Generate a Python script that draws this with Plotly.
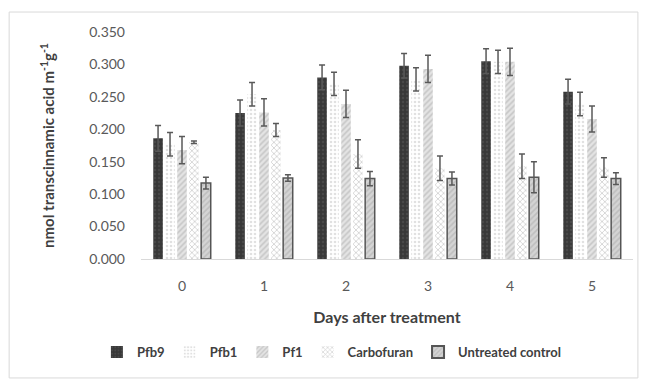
import plotly.graph_objects as go

days = ["0", "1", "2", "3", "4", "5"]
y_ticks = [0.0, 0.05, 0.10, 0.15, 0.20, 0.25, 0.30, 0.35]

pfb9 = [0.186, 0.225, 0.280, 0.298, 0.305, 0.258]
pfb9_err = [0.020, 0.020, 0.019, 0.019, 0.019, 0.019]
pfb1 = [0.177, 0.254, 0.270, 0.277, 0.304, 0.239]
pfb1_err = [0.018, 0.018, 0.018, 0.018, 0.018, 0.018]
pf1 = [0.168, 0.226, 0.239, 0.293, 0.304, 0.216]
pf1_err = [0.021, 0.021, 0.021, 0.021, 0.021, 0.020]
carbofuran = [0.180, 0.199, 0.162, 0.140, 0.143, 0.141]
carbofuran_err = [0.002, 0.010, 0.022, 0.019, 0.019, 0.015]
control = [0.117, 0.125, 0.124, 0.124, 0.126, 0.124]
control_err = [0.009, 0.005, 0.011, 0.010, 0.024, 0.009]

FONT = "Lato"
TEXT = "#404040"
ERR = "#595959"

series = [
    ("Pfb9", pfb9, pfb9_err, dict(color="#383838", pattern=dict(shape=".", fgcolor="#5a5a5a", size=4, solidity=0.3, fillmode="overlay"), line=dict(width=0))),
    ("Pfb1", pfb1, pfb1_err, dict(color="#ffffff", pattern=dict(shape=".", fgcolor="#c4c4c4", size=4, solidity=0.35, fillmode="overlay"), line=dict(width=0))),
    ("Pf1", pf1, pf1_err, dict(color="#e4e4e4", pattern=dict(shape="/", fgcolor="#a8a8a8", size=4, solidity=0.4, fillmode="overlay"), line=dict(width=0))),
    ("Carbofuran", carbofuran, carbofuran_err, dict(color="#ffffff", pattern=dict(shape="x", fgcolor="#9c9c9c", size=4, solidity=0.35, fillmode="overlay"), line=dict(width=0))),
    ("Untreated control", control, control_err, dict(color="#d4d4d4", pattern=dict(shape="/", fgcolor="#a8a8a8", size=4, solidity=0.4, fillmode="overlay"), line=dict(color="#555555", width=1.5))),
]

fig = go.Figure()
for name, vals, errs, marker in series:
    fig.add_trace(go.Bar(
        name=name, x=days, y=vals, marker=marker,
        error_y=dict(type="data", array=errs, visible=True, color=ERR, thickness=1.5, width=3),
    ))

fig.update_layout(
    width=645, height=383,
    margin=dict(l=141, r=12, t=32, b=124),
    paper_bgcolor="white", plot_bgcolor="white",
    barmode="group", bargap=0.27, bargroupgap=0.2,
    font=dict(family=FONT, color=TEXT),
    showlegend=True,
    legend=dict(orientation="h", x=0.388, xanchor="center", y=-0.41, yanchor="middle",
                font=dict(family=FONT, size=13, color=TEXT, weight="bold"),
                itemwidth=30, tracegroupgap=0, itemsizing="constant"),
    xaxis=dict(
        type="category", showgrid=False, showline=True, linecolor="#d9d9d9", linewidth=1,
        ticks="", ticklabelstandoff=14,
        tickfont=dict(family=FONT, size=14, color="#595959"),
        title=dict(text="Days after treatment", standoff=19,
                   font=dict(family=FONT, size=16, color=TEXT, weight="bold")),
    ),
    yaxis=dict(
        range=[0, 0.35], tickvals=y_ticks, tickformat=".3f", showgrid=False,
        zeroline=False, showline=False, ticks="", ticklabelstandoff=15,
        tickfont=dict(family=FONT, size=14, color="#595959"),
        title=dict(text="nmol transcinnamic acid m<sup>-1</sup>g<sup>-1</sup>", standoff=30,
                   font=dict(family=FONT, size=15, color=TEXT, weight="bold")),
    ),
    shapes=[dict(type="rect", xref="paper", yref="paper",
                 x0=-0.268, x1=1.010, y0=-0.524, y1=1.088,
                 line=dict(color="#d9d9d9", width=1), layer="below")],
)

fig.write_html("out.html")
